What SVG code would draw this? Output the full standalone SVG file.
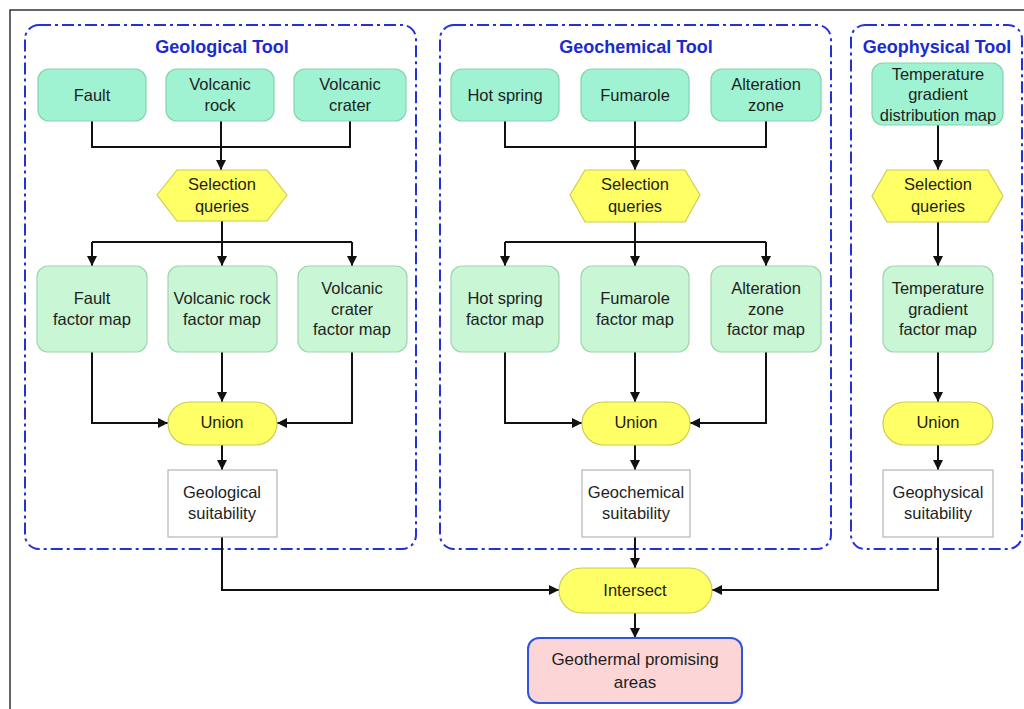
<svg xmlns="http://www.w3.org/2000/svg" width="1024" height="709" viewBox="0 0 1024 709">
<style>
text{font-family:"Liberation Sans",Arial,sans-serif;font-size:16.5px;fill:#1e1e1e;text-anchor:middle}
.title{font-weight:bold;font-size:18px;fill:#1a2bd0}
.cont{fill:none;stroke:#2430d8;stroke-width:2;stroke-dasharray:12 4 3 4}
.src{fill:#9ff3d2;stroke:#86d3ae;stroke-width:1.2}
.fac{fill:#c9f6d4;stroke:#9fd6ae;stroke-width:1.2}
.yel{fill:#ffff66;stroke:#cccc55;stroke-width:1.2}
.suit{fill:#fff;stroke:#b5b5b5;stroke-width:1.2}
.res{fill:#fcd6d6;stroke:#2f55dd;stroke-width:2}
.c{fill:none;stroke:#111;stroke-width:2}
.a{marker-end:url(#ah)}
</style>
<defs>
<marker id="ah" markerWidth="10" markerHeight="10" refX="10" refY="5" orient="auto" markerUnits="userSpaceOnUse">
<path d="M0,0 L10,5 L0,10 Z" fill="#111"/>
</marker>
</defs>
<rect width="1024" height="709" fill="#fff"/>
<path d="M10,709 V10 H1024" fill="none" stroke="#333" stroke-width="1.5"/>

<g id="containers">
<g id="geological-tool"><rect class="cont" x="25" y="25" width="391" height="524" rx="14"/><text class="title" x="222" y="53">Geological Tool</text></g>
<g id="geochemical-tool"><rect class="cont" x="440" y="25" width="391" height="524" rx="14"/><text class="title" x="636" y="53">Geochemical Tool</text></g>
<g id="geophysical-tool"><rect class="cont" x="851" y="25" width="171" height="524" rx="14"/><text class="title" x="937" y="53">Geophysical Tool</text></g>
</g>

<g id="connectors">
<path class="c" d="M92,121 V147 H350 V121 M221,121 V147"/>
<path class="c a" d="M221,147 V170"/>
<path class="c" d="M222,221 V242 M92,242 H352"/>
<path class="c a" d="M92,242 V266"/>
<path class="c a" d="M222,242 V266"/>
<path class="c a" d="M352,242 V266"/>
<path class="c a" d="M92,352 V423 H168"/>
<path class="c a" d="M222,352 V402"/>
<path class="c a" d="M352,352 V423 H277"/>
<path class="c a" d="M222,445 V470"/>
<path class="c a" d="M222,537 V590 H559"/>
<path class="c" d="M505,121 V147 H766 V121 M635,121 V147"/>
<path class="c a" d="M635,147 V170"/>
<path class="c" d="M635,222 V242 M505,242 H766"/>
<path class="c a" d="M505,242 V266"/>
<path class="c a" d="M635,242 V266"/>
<path class="c a" d="M766,242 V266"/>
<path class="c a" d="M505,352 V423 H582"/>
<path class="c a" d="M635,352 V402"/>
<path class="c a" d="M766,352 V423 H690"/>
<path class="c a" d="M635,445 V470"/>
<path class="c a" d="M635,537 V568"/>
<path class="c a" d="M938,125 V170"/>
<path class="c a" d="M938,222 V266"/>
<path class="c a" d="M938,352 V402"/>
<path class="c a" d="M938,445 V470"/>
<path class="c a" d="M938,537 V590 H712"/>
<path class="c a" d="M635,613 V638"/>
</g>

<g id="fault"><rect class="src" x="38" y="69" width="108" height="52" rx="11"/><text x="92" y="101">Fault</text></g>
<g id="volcanic-rock"><rect class="src" x="166" y="69" width="108" height="52" rx="11"/><text x="220" y="90">Volcanic</text><text x="220" y="111">rock</text></g>
<g id="volcanic-crater"><rect class="src" x="294" y="69" width="112" height="52" rx="11"/><text x="350" y="90">Volcanic</text><text x="350" y="111">crater</text></g>
<g id="sel-geo"><polygon class="yel" points="157,195 177,170 267,170 287,195 267,221 177,221"/><text x="222" y="190">Selection</text><text x="222" y="212">queries</text></g>
<g id="fault-factor"><rect class="fac" x="37" y="266" width="110" height="86" rx="11"/><text x="92" y="304">Fault</text><text x="92" y="325">factor map</text></g>
<g id="volcanic-rock-factor"><rect class="fac" x="168" y="266" width="109" height="86" rx="11"/><text x="222" y="304">Volcanic rock</text><text x="222" y="325">factor map</text></g>
<g id="volcanic-crater-factor"><rect class="fac" x="298" y="266" width="109" height="86" rx="11"/><text x="352" y="294">Volcanic</text><text x="352" y="315">crater</text><text x="352" y="335">factor map</text></g>
<g id="union-geo"><rect class="yel" x="168" y="402" width="109" height="43" rx="21.5"/><text x="222" y="428">Union</text></g>
<g id="geological-suitability"><rect class="suit" x="168" y="470" width="109" height="67"/><text x="222" y="498">Geological</text><text x="222" y="519">suitability</text></g>

<g id="hot-spring"><rect class="src" x="451" y="69" width="108" height="52" rx="11"/><text x="505" y="101">Hot spring</text></g>
<g id="fumarole"><rect class="src" x="581" y="69" width="108" height="52" rx="11"/><text x="635" y="101">Fumarole</text></g>
<g id="alteration-zone"><rect class="src" x="711" y="69" width="110" height="52" rx="11"/><text x="766" y="90">Alteration</text><text x="766" y="111">zone</text></g>
<g id="sel-chem"><polygon class="yel" points="570,195 585,170 685,170 700,195 685,222 585,222"/><text x="635" y="190">Selection</text><text x="635" y="212">queries</text></g>
<g id="hot-spring-factor"><rect class="fac" x="451" y="266" width="108" height="86" rx="11"/><text x="505" y="304">Hot spring</text><text x="505" y="325">factor map</text></g>
<g id="fumarole-factor"><rect class="fac" x="581" y="266" width="108" height="86" rx="11"/><text x="635" y="304">Fumarole</text><text x="635" y="325">factor map</text></g>
<g id="alteration-zone-factor"><rect class="fac" x="711" y="266" width="110" height="86" rx="11"/><text x="766" y="294">Alteration</text><text x="766" y="315">zone</text><text x="766" y="335">factor map</text></g>
<g id="union-chem"><rect class="yel" x="582" y="402" width="108" height="43" rx="21.5"/><text x="636" y="428">Union</text></g>
<g id="geochemical-suitability"><rect class="suit" x="582" y="470" width="108" height="67"/><text x="636" y="498">Geochemical</text><text x="636" y="519">suitability</text></g>

<g id="temp-gradient-map"><rect class="src" x="872" y="63" width="131" height="62" rx="11"/><text x="938" y="80">Temperature</text><text x="938" y="100">gradient</text><text x="938" y="121">distribution map</text></g>
<g id="sel-phys"><polygon class="yel" points="872,196 887,170 988,170 1003,196 988,222 887,222"/><text x="938" y="190">Selection</text><text x="938" y="212">queries</text></g>
<g id="temp-gradient-factor"><rect class="fac" x="883" y="266" width="110" height="86" rx="11"/><text x="938" y="294">Temperature</text><text x="938" y="315">gradient</text><text x="938" y="335">factor map</text></g>
<g id="union-phys"><rect class="yel" x="883" y="402" width="110" height="43" rx="21.5"/><text x="938" y="428">Union</text></g>
<g id="geophysical-suitability"><rect class="suit" x="883" y="470" width="110" height="67"/><text x="938" y="498">Geophysical</text><text x="938" y="519">suitability</text></g>

<g id="intersect"><rect class="yel" x="559" y="568" width="153" height="45" rx="22.5"/><text x="635" y="596">Intersect</text></g>
<g id="geothermal-areas"><rect class="res" x="528" y="638" width="214" height="65" rx="11"/><text x="635" y="665" style="font-size:17px">Geothermal promising</text><text x="635" y="688" style="font-size:17px">areas</text></g>
</svg>
